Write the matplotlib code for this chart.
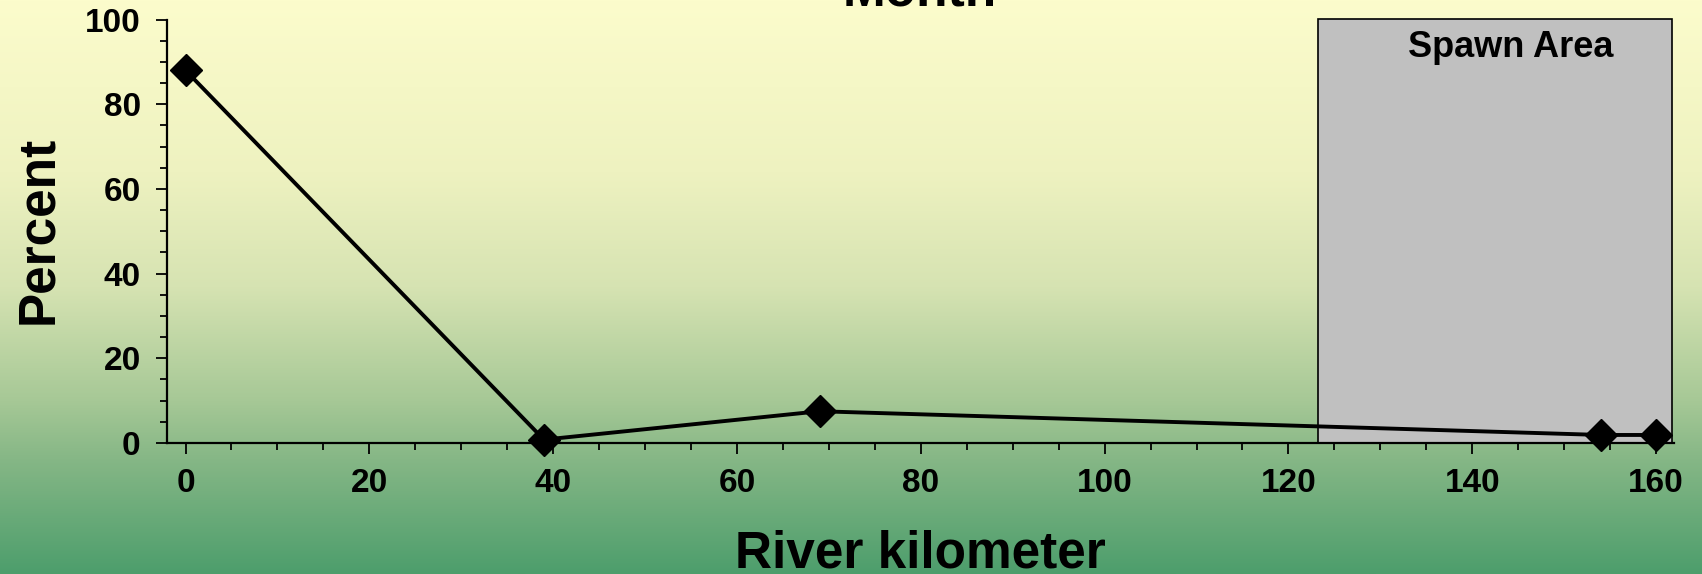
import numpy as np
import matplotlib
matplotlib.use("Agg")
import matplotlib.pyplot as plt
from matplotlib.colors import LinearSegmentedColormap
from matplotlib.patches import Rectangle
from matplotlib.ticker import MultipleLocator

plt.rcParams['font.family'] = ['Liberation Sans', 'DejaVu Sans']
plt.rcParams['font.weight'] = 'bold'

# data
river_km = [0, 39, 69, 154, 160]
percent = [88, 0.8, 7.5, 1.9, 1.9]
spawn_start, spawn_end = 123.2, 161.7
x_ticks = [0, 20, 40, 60, 80, 100, 120, 140, 160]
y_ticks = [0, 20, 40, 60, 80, 100]

fig = plt.figure(figsize=(17.02, 5.74), dpi=100)

# gradient background (pale yellow -> green)
bg = fig.add_axes([0, 0, 1, 1], zorder=-10)
bg.axis('off')
stops = [(0.0, '#fcfccc'), (0.3, '#eef2c0'), (0.5, '#d6e3b2'),
         (0.7, '#a6c896'), (0.8, '#86b786'), (1.0, '#4d9e6c')]
cmap = LinearSegmentedColormap.from_list('bg', stops)
grad = np.linspace(0, 1, 256).reshape(-1, 1)
bg.imshow(grad, aspect='auto', cmap=cmap, extent=[0, 1, 0, 1], origin='upper')

ax = fig.add_axes([0.0982, 0.2282, 0.8856, 0.7378])
ax.patch.set_alpha(0)

# spawn area box
ax.add_patch(Rectangle((spawn_start, 0), spawn_end - spawn_start, 100.2,
                       facecolor='#c0c0c0', edgecolor='black', linewidth=1.2,
                       zorder=1, clip_on=False))
ax.text(144.2, 93.3, 'Spawn Area', ha='center', va='center',
        fontsize=26, fontweight='bold', zorder=2)

ax.plot(river_km, percent, color='black', linewidth=2.8, marker='D',
        markersize=16, zorder=3, clip_on=False)

ax.set_xlim(-2, 162)
ax.set_ylim(0, 100)
ax.set_xticks(x_ticks)
ax.set_yticks(y_ticks)
ax.xaxis.set_minor_locator(MultipleLocator(5))
ax.yaxis.set_minor_locator(MultipleLocator(5))

for side in ['top', 'right']:
    ax.spines[side].set_visible(False)
for side in ['left', 'bottom']:
    ax.spines[side].set_linewidth(1.6)
    ax.spines[side].set_zorder(2.5)

ax.tick_params(axis='both', which='major', direction='out', length=8, width=1.3,
               labelsize=24)
ax.tick_params(axis='both', which='minor', direction='out', length=5, width=1.3)
ax.tick_params(axis='x', which='major', pad=10)
ax.tick_params(axis='y', which='major', pad=11)

ax.set_xlabel('River kilometer', fontsize=37, fontweight='bold', va='baseline')
ax.xaxis.set_label_coords(0.5, -0.293)
ax.set_ylabel('Percent', fontsize=37, fontweight='bold', va='center')
ax.yaxis.set_label_coords(-0.085, 0.503)

fig.text(0.5405, 1 - 6 / 574, 'Month', ha='center', va='baseline',
         fontsize=37, fontweight='bold')

fig.savefig('out.png', dpi=100)
